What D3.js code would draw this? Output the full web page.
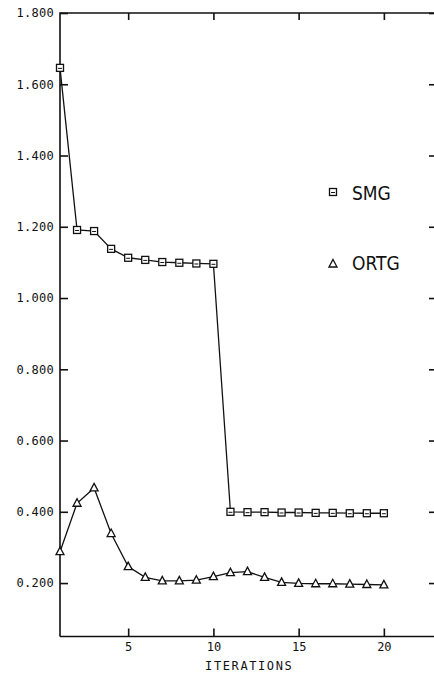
<!DOCTYPE html>
<html>
<head>
<meta charset="utf-8">
<script src="https://cdn.jsdelivr.net/npm/d3@7"></script>
<style>
  body { margin: 0; background: #fff; }
  svg { display: block; }
  .tick text { font-family: 'DejaVu Sans Mono', monospace; font-size: 12px; fill: #111; }
</style>
</head>
<body>
<svg id="chart" width="434" height="675"></svg>
<script>
let iterations = d3.range(1, 21);
let smg = [1.646, 1.191, 1.188, 1.138, 1.113, 1.107, 1.101, 1.099, 1.097, 1.096,
           0.400, 0.399, 0.399, 0.398, 0.398, 0.397, 0.397, 0.396, 0.396, 0.396];
let ortg = [0.288, 0.424, 0.467, 0.339, 0.246, 0.216, 0.206, 0.206, 0.208, 0.218,
            0.229, 0.232, 0.216, 0.202, 0.199, 0.198, 0.198, 0.197, 0.196, 0.195];
let yTicks = [0.2, 0.4, 0.6, 0.8, 1.0, 1.2, 1.4, 1.6, 1.8];
let xTicks = [5, 10, 15, 20];
let seriesNames = ['SMG', 'ORTG'];

let svg = d3.select('#chart');
let x = d3.scaleLinear().domain([1, 23]).range([60, 435]);
let y = d3.scaleLinear().domain([0.05, 1.8]).range([636.5, 13]);
let ink = '#111';

// axes, ticks pointing inward
let gl = svg.append('g').attr('transform', `translate(${x(1)},0)`)
  .call(d3.axisLeft(y).tickValues(yTicks).tickSize(-8).tickPadding(6).tickFormat(d3.format('.3f')));
let gr = svg.append('g').attr('transform', `translate(${x(23)},0)`)
  .call(d3.axisRight(y).tickValues(yTicks).tickSize(-6).tickFormat(''));
let gt = svg.append('g').attr('transform', `translate(0,${y(1.8)})`)
  .call(d3.axisTop(x).tickValues(xTicks).tickSize(-7).tickFormat(''));
let gb = svg.append('g').attr('transform', `translate(0,${y(0.05)})`)
  .call(d3.axisBottom(x).tickValues(xTicks).tickSize(-8).tickPadding(6));
[gl, gr, gt, gb].forEach(g => {
  g.select('.domain').attr('stroke', ink).attr('stroke-width', 1.6).attr('d', null);
  g.selectAll('line').attr('stroke', ink).attr('stroke-width', 1.6);
});
gl.selectAll('text').attr('letter-spacing', 0.3);
// frame lines
svg.append('path')
  .attr('d', `M${x(1)},${y(0.05)}V${y(1.8)}H${x(23)}M${x(1)},${y(0.05)}H${x(23)}`)
  .attr('fill', 'none').attr('stroke', ink).attr('stroke-width', 1.6);

svg.append('text')
  .attr('x', x(12.1)).attr('y', 670)
  .attr('text-anchor', 'middle')
  .attr('font-family', "'DejaVu Sans Mono', monospace")
  .attr('font-size', 12).attr('letter-spacing', 1.6).attr('fill', ink)
  .text('ITERATIONS');

let line = d3.line().x((d, i) => x(iterations[i])).y(d => y(d));

function square(g, cx, cy) {
  g.append('rect').attr('x', cx - 3.5).attr('y', cy - 3.5).attr('width', 7).attr('height', 7)
    .attr('fill', '#fff').attr('stroke', ink).attr('stroke-width', 1.3);
  g.append('line').attr('x1', cx - 2).attr('x2', cx + 2).attr('y1', cy + 0.5).attr('y2', cy + 0.5)
    .attr('stroke', ink).attr('stroke-width', 1);
}
function triangle(g, cx, cy) {
  g.append('path').attr('d', `M${cx},${cy - 4.5}L${cx + 4},${cy + 3}L${cx - 4},${cy + 3}Z`)
    .attr('fill', '#fff').attr('stroke', ink).attr('stroke-width', 1.3);
}

svg.append('path').datum(smg).attr('d', line)
  .attr('fill', 'none').attr('stroke', ink).attr('stroke-width', 1.3);
svg.append('path').datum(ortg).attr('d', line)
  .attr('fill', 'none').attr('stroke', ink).attr('stroke-width', 1.3);

let gm = svg.append('g');
smg.forEach((v, i) => square(gm, x(iterations[i]), y(v)));
ortg.forEach((v, i) => triangle(gm, x(iterations[i]), y(v)));

// legend
let legend = svg.append('g');
square(legend, 333, 192);
triangle(legend, 333, 264);
legend.selectAll('text.lab').data(seriesNames).join('text')
  .attr('class', 'lab')
  .attr('x', 352).attr('y', (d, i) => i ? 270 : 200)
  .attr('font-family', "'DejaVu Sans Condensed', 'DejaVu Sans', sans-serif")
  .attr('font-size', 19).attr('fill', ink)
  .text(d => d);
</script>
</body>
</html>
